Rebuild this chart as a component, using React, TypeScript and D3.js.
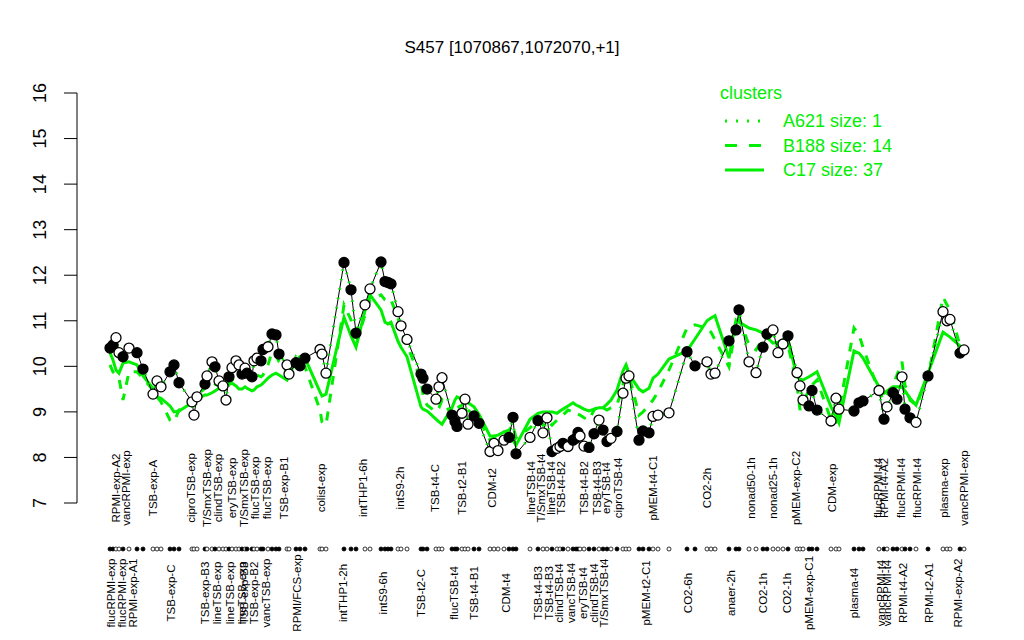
import React from "react";
import * as d3 from "d3";

// sample positions along the x axis (relative units)
const positions = [5,8,11,14,18,24,32,38,48,52,56,65,69,74,87,89,92,100,102,107,110,114,118,121,124,127,131,134,137,140,142,147,149,152,156,158,163,167,171,174,182,184,191,195,200,215,217,221,239,246,251,260,265,276,280,283,286,293,296,302,316,318,322,331,334,337,347,350,352,357,360,363,369,374,385,389,393,399,404,408,411,425,433,438,442,447,452,455,458,463,468,471,473,475,479,484,489,494,498,502,506,512,518,521,524,534,538,544,548,553,564,582,590,602,606,610,624,631,634,644,651,658,662,668,673,678,683,692,695,698,704,707,712,726,731,734,749,754,758,774,779,782,788,792,797,800,805,811,823,838,842,845,855,859];

// expression values of S457 (also cluster A621, size 1)
const values = [10.40,10.47,10.63,10.30,10.21,10.40,10.30,9.94,9.39,9.68,9.55,9.88,10.03,9.64,9.22,8.93,9.33,9.61,9.79,10.10,9.99,9.68,9.57,9.26,9.77,9.97,10.12,10.03,9.83,9.96,9.85,9.77,10.12,10.18,10.12,10.37,10.43,10.71,10.69,10.27,10.03,9.83,10.08,10.01,10.18,10.37,10.27,9.85,12.28,11.68,10.73,11.35,11.70,12.29,11.86,11.84,11.81,11.20,10.89,10.59,9.83,9.74,9.50,9.28,9.55,9.75,8.93,8.79,8.68,8.97,9.28,8.73,8.91,8.75,8.13,8.31,8.15,8.38,8.44,8.88,8.08,8.44,8.81,8.54,8.87,8.13,8.20,8.24,8.31,8.24,8.38,8.42,8.55,8.47,8.25,8.22,8.52,8.82,8.60,8.35,8.42,8.57,9.41,9.74,9.79,8.38,8.58,8.54,8.90,8.93,8.98,10.32,10.01,10.10,9.83,9.85,10.56,10.80,11.24,10.10,9.86,10.42,10.71,10.80,10.30,10.49,10.67,9.86,9.57,9.26,9.13,9.47,9.04,8.80,9.30,9.06,9.02,9.20,9.24,9.47,8.84,9.11,9.42,9.28,9.77,9.06,8.87,8.77,9.79,11.20,11.00,11.03,10.29,10.36];

// 1 = filled marker, 0 = open marker
const filled = [1,1,0,0,1,0,1,1,0,0,0,1,1,1,0,0,0,1,0,0,1,0,0,0,1,0,0,0,1,0,1,1,0,0,1,1,0,1,1,1,0,0,1,1,1,0,0,0,1,1,1,0,0,1,1,1,1,0,0,0,1,1,1,0,0,0,1,1,1,0,0,0,1,1,0,0,0,0,1,1,1,0,1,0,0,1,0,0,1,0,1,1,1,0,0,1,1,0,1,1,0,1,0,0,0,1,1,1,0,0,0,1,1,0,0,0,1,1,1,0,0,1,1,0,0,0,1,0,0,0,1,1,1,0,0,0,1,1,1,0,1,0,1,1,0,1,1,0,1,0,0,0,1,0];

// cluster B188 (size 14) mean profile
const b188 = [10.03,9.88,9.81,9.74,9.26,9.88,9.88,9.74,9.48,9.33,9.22,8.82,8.78,9.04,9.26,9.30,9.37,9.52,9.59,9.66,9.61,9.57,9.52,9.48,9.59,9.70,9.74,9.79,9.81,9.83,9.79,9.74,9.79,9.81,9.77,9.81,10.03,10.32,10.25,10.10,9.88,9.81,10.21,10.14,9.99,9.04,8.78,8.71,11.35,11.02,10.47,11.13,11.46,11.57,11.46,11.41,11.46,11.06,10.80,10.47,9.70,9.37,9.15,9.00,9.09,9.26,8.93,9.04,9.09,9.15,9.22,9.04,8.93,8.82,8.38,8.43,8.47,8.56,8.60,8.71,8.43,8.65,8.82,8.71,8.82,8.71,8.82,8.87,8.93,9.04,9.00,8.93,8.95,8.93,8.87,8.82,9.04,9.15,9.09,9.04,9.09,9.15,9.59,10.03,9.81,8.93,9.00,9.15,9.26,9.44,9.92,10.84,10.91,10.84,10.75,10.58,9.99,10.91,11.06,10.47,10.36,10.62,10.69,10.69,10.47,10.53,10.47,9.59,9.04,9.22,9.48,9.59,9.70,8.82,8.78,9.04,10.84,10.69,10.42,9.44,9.26,9.37,9.59,9.81,10.10,9.59,9.26,9.15,9.74,11.52,11.35,11.24,10.45,10.36];

// cluster C17 (size 37) mean profile
const c17 = [10.30,10.14,9.92,9.85,10.07,10.10,10.03,9.79,9.52,9.33,9.30,9.13,9.00,9.02,9.20,9.24,9.28,9.37,9.37,9.42,9.46,9.52,9.59,9.61,9.61,9.63,9.57,9.50,9.50,9.55,9.52,9.46,9.48,9.55,9.59,9.63,9.74,9.81,9.85,9.81,9.70,9.81,10.12,10.21,10.18,9.44,9.35,9.39,11.08,10.67,10.42,11.22,11.57,11.24,10.97,10.93,10.97,10.55,10.42,10.21,9.11,9.06,9.02,8.84,8.78,8.73,9.09,9.26,9.33,9.28,9.26,9.20,9.11,8.95,8.47,8.47,8.49,8.56,8.51,8.38,8.27,8.84,8.97,9.00,9.00,9.00,8.97,9.02,9.06,9.13,9.20,9.15,9.13,9.11,9.06,9.02,9.06,9.09,9.09,9.17,9.26,9.48,9.90,10.03,9.83,9.50,9.44,9.52,9.74,9.83,10.16,10.34,10.60,11.00,11.06,11.11,10.18,11.02,10.97,10.84,10.80,10.73,10.64,10.51,10.53,10.58,10.58,9.77,9.72,9.70,9.77,9.81,9.88,9.11,8.91,8.76,10.34,10.29,10.18,9.55,9.41,9.46,9.55,9.55,9.55,9.46,9.30,9.15,9.85,10.75,10.69,10.64,10.45,10.38];

const topLabels = ["RPMI-exp-A2","vancRPMI-exp","TSB-exp-A","ciproTSB-exp","T/SmxTSB-exp","clindTSB-exp","eryTSB-exp","T/SmxTSB-exp","flucTSB-exp","flucTSB-exp","TSB-exp-B1","colist-exp","intTHP1-6h","intS9-2h","TSB-t4-C","TSB-t2-B1","CDM-t2","lineTSB-t4","T/SmxTSB-t4","lineTSB-t4","TSB-t4-B2","TSB-t4-B2","TSB-t4-B3","eryTSB-t4","ciproTSB-t4","pMEM-t4-C1","CO2-2h","nonad50-1h","nonad25-1h","pMEM-exp-C2","CDM-exp","flucRPMI-t4","RPMI-t4-A2","flucRPMI-t4","flucRPMI-t4","plasma-exp","vancRPMI-exp"];
const topLabelPos = [11,21,48,86,102,113,127,139,150,162,179,216,258,295,330,357,387,426,436,446,456,479,492,501,513,548,602,646,668,691,727,773,779,796,812,839,859];

const bottomLabels = ["flucRPMI-exp","flucRPMI-exp","RPMI-exp-A1","TSB-exp-C","TSB-exp-B3","lineTSB-exp","lineTSB-exp","lineTSB-exp","TSB-exp-B3","TSB-exp-B2","vancTSB-exp","RPMI/FCS-exp","intTHP1-2h","intS9-6h","TSB-t2-C","flucTSB-t4","TSB-t4-B1","CDM-t4","TSB-t4-B3","TSB-t4-B3","clindTSB-t4","vancTSB-t4","eryTSB-t4","clindTSB-t4","T/SmxTSB-t4","pMEM-t2-C1","CO2-6h","anaer-2h","CO2-1h","CO2-1h","pMEM-exp-C1","plasma-t4","vancRPMI-t4","vancRPMI-t4","RPMI-t4-A2","RPMI-t2-A1","RPMI-exp-A2"];
const bottomLabelPos = [6,17,28,66,100,112,125,137,139,149,161,192,238,278,316,349,369,401,433,444,454,466,478,489,499,541,583,626,658,682,704,749,776,782,798,824,853];

const yTicks = [7, 8, 9, 10, 11, 12, 13, 14, 15, 16];

const legendItems = [
  { name: "A621 size: 1", dash: "2,9" },
  { name: "B188 size: 14", dash: "12,12" },
  { name: "C17 size: 37", dash: "" },
];

const GREEN = "#00ee00";
const FONT = "'Liberation Sans', Arial, Helvetica, sans-serif";

export default function App() {
  const W = 1024, H = 640;
  const x = d3.scaleLinear().domain([0, 863]).range([105, 968]);
  const y = d3.scaleLinear().domain([7, 16]).range([503, 93]);
  const idx = d3.range(positions.length);
  const lineOf = (arr: number[]) =>
    d3.line<number>().x((i) => x(positions[i])).y((i) => y(arr[i]))(idx) || "";

  const dotY = 549;

  return (
    <svg width={W} height={H} style={{ position: "absolute", left: 0, top: 0, background: "#fff" }} fontFamily={FONT}>
      <rect width={W} height={H} fill="#fff" />
      <text x={512} y={53} textAnchor="middle" fontSize={17}>S457 [1070867,1072070,+1]</text>

      {/* y axis */}
      <line x1={77} x2={77} y1={y(16)} y2={y(7)} stroke="#000" strokeWidth={1} />
      {yTicks.map((t) => (
        <g key={t}>
          <line x1={64} x2={77} y1={y(t)} y2={y(t)} stroke="#000" strokeWidth={1} />
          <text transform={`translate(40,${y(t)}) rotate(-90)`} textAnchor="middle" dominantBaseline="central" fontSize={18}>{t}</text>
        </g>
      ))}

      {/* cluster lines */}
      <path d={lineOf(c17)} fill="none" stroke={GREEN} strokeWidth={3} />
      <path d={lineOf(b188)} fill="none" stroke={GREEN} strokeWidth={3} strokeDasharray="9,9" />
      <path d={lineOf(values)} fill="none" stroke="#000" strokeWidth={1} />
      <path d={lineOf(values)} fill="none" stroke={GREEN} strokeWidth={3} strokeDasharray="1.5,8" />

      {/* points */}
      {idx.map((i) => (
        <circle key={i} cx={x(positions[i])} cy={y(values[i])} r={5}
          fill={filled[i] ? "#000" : "#fff"} stroke="#000" strokeWidth={1.3} />
      ))}

      {/* dot row */}
      {idx.map((i) => (
        <circle key={"d" + i} cx={x(positions[i])} cy={dotY} r={2}
          fill={filled[i] ? "#000" : "#fff"} stroke="#000" strokeWidth={0.8} />
      ))}

      {/* labels */}
      {topLabels.map((l, i) => (
        <text key={"t" + i} transform={`translate(${x(topLabelPos[i])},488) rotate(-90)`} textAnchor="middle" dominantBaseline="central" fontSize={11.5}>{l}</text>
      ))}
      {bottomLabels.map((l, i) => (
        <text key={"b" + i} transform={`translate(${x(bottomLabelPos[i])},593) rotate(-90)`} textAnchor="middle" dominantBaseline="central" fontSize={11.5}>{l}</text>
      ))}

      {/* legend */}
      <text x={720} y={99} fill={GREEN} fontSize={18}>clusters</text>
      {legendItems.map((it, i) => (
        <g key={it.name}>
          <line x1={725} x2={764} y1={121 + i * 24.5} y2={121 + i * 24.5} stroke={GREEN} strokeWidth={3} strokeDasharray={it.dash || undefined} />
          <text x={783} y={121 + i * 24.5} dominantBaseline="central" fill={GREEN} fontSize={18}>{it.name}</text>
        </g>
      ))}
    </svg>
  );
}
